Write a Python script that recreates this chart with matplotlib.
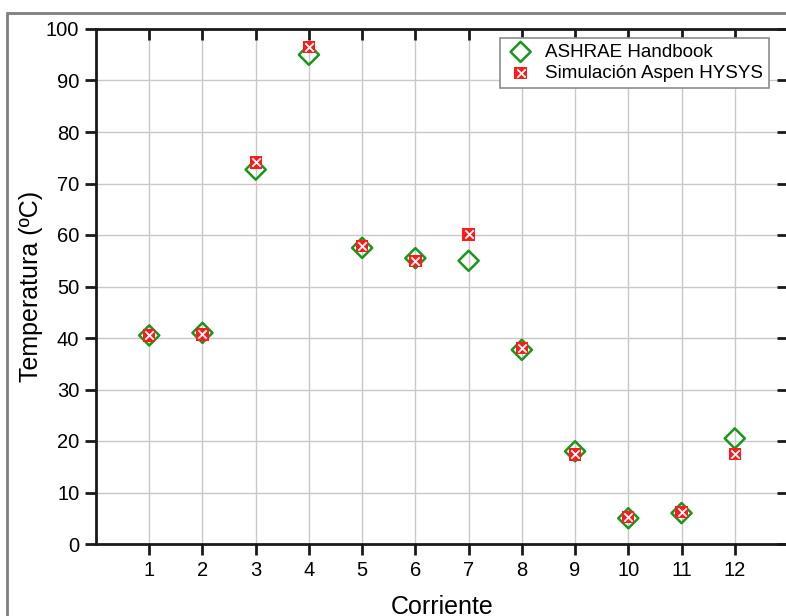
import matplotlib
matplotlib.use("Agg")
import matplotlib.pyplot as plt
from matplotlib.patches import Rectangle

plt.rcParams['font.family'] = ['Liberation Sans', 'DejaVu Sans']

corriente = [1, 2, 3, 4, 5, 6, 7, 8, 9, 10, 11, 12]
ashrae = [40.5, 41.0, 72.7, 95.0, 57.5, 55.5, 55.0, 37.7, 18.0, 5.0, 6.0, 20.5]
hysys = [40.5, 40.7, 74.1, 96.5, 57.8, 55.0, 60.1, 38.0, 17.4, 5.3, 6.2, 17.5]

fig = plt.figure(figsize=(7.86, 6.16), dpi=100)
ax = fig.add_axes([96/786, 1-544/616, 692/786, (544-29)/616])

# grey frame around the figure
fig.patches.append(Rectangle((7/786, -0.2), 1.2, 0.2 + 1 - 13/616, transform=fig.transFigure,
                             fill=False, edgecolor='#7f7f7f', lw=2, zorder=0))

ax.grid(True, color='#c8c8c8', lw=1)
ax.set_axisbelow(True)

green = '#1a961a'
red = '#ff1a1a'
ax.scatter(corriente, ashrae, marker='D', s=105, facecolors='none', edgecolors=green,
           linewidths=1.8, zorder=3)
ax.scatter(corriente, hysys, marker='s', s=78, color=red, edgecolors='none', zorder=4)
ax.scatter(corriente, hysys, marker='x', s=36, color='white', linewidths=1.3, zorder=5)
# legend handles
h1 = ax.scatter([], [], marker='D', s=105, facecolors='none', edgecolors=green, linewidths=1.8)
h2a = ax.scatter([], [], marker='s', s=78, color=red, edgecolors='none')
h2b = ax.scatter([], [], marker='x', s=36, color='white', linewidths=1.3)

ax.set_xlim(0, 13)
ax.set_ylim(0, 100)
ax.set_xticks(corriente)
ax.set_yticks(range(0, 101, 10))

for s in ax.spines.values():
    s.set_linewidth(2)
    s.set_color('#1a1a1a')
ax.tick_params(axis='both', which='major', labelsize=14.5, width=2, length=8, direction='out',
               color='#1a1a1a', top=True, right=True, pad=4)
for t in ax.xaxis.get_major_ticks():
    t.tick2line.set_marker(3)
for t in ax.yaxis.get_major_ticks():
    t.tick2line.set_marker(0)

ax.set_xlabel('Corriente', fontsize=18)
ax.set_ylabel('Temperatura (ºC)', fontsize=18)
ax.xaxis.set_label_coords(0.5, -0.1)
ax.yaxis.set_label_coords(-0.077, 0.5)

leg = ax.legend([h1, (h2a, h2b)], ['ASHRAE Handbook', 'Simulación Aspen HYSYS'],
                loc='upper left', fontsize=13.5, frameon=True, fancybox=False,
                edgecolor='#8c8c8c', framealpha=1, borderpad=0.3, handletextpad=0.5,
                labelspacing=0.22, borderaxespad=0, handlelength=1.6)
leg.get_frame().set_linewidth(1.2)
leg.set_bbox_to_anchor((500/786, 1-38/616), transform=fig.transFigure)

fig.savefig('out.png', dpi=100)
